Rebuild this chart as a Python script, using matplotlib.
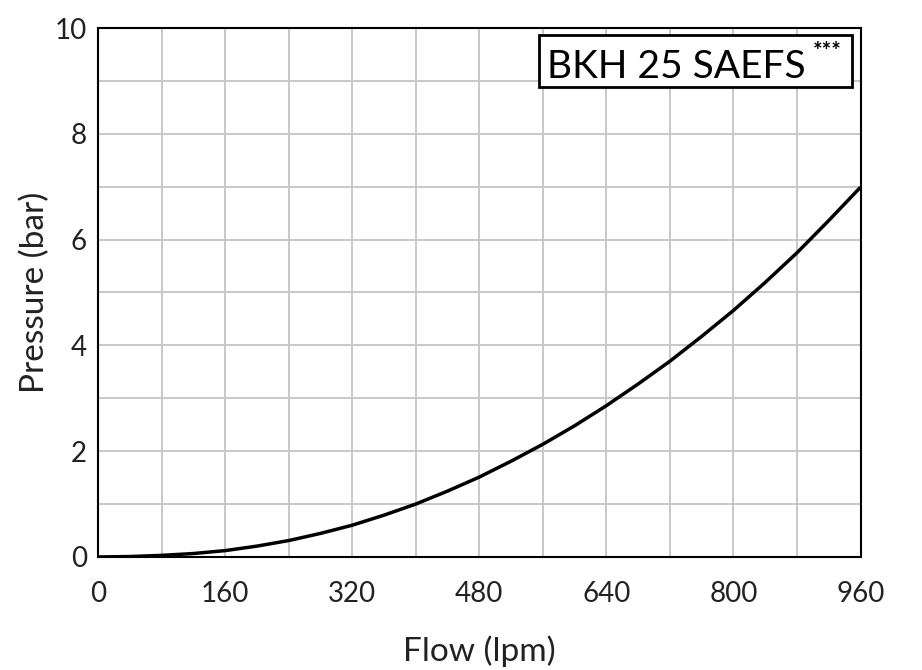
import matplotlib
matplotlib.use("Agg")
import matplotlib.pyplot as plt
from matplotlib.patches import Rectangle

flow = [0, 40, 80, 120, 160, 200, 240, 280, 320, 360, 400, 440, 480, 520, 560,
        600, 640, 680, 720, 760, 800, 840, 880, 920, 960]
pressure = [0.0, 0.008, 0.03, 0.065, 0.12, 0.205, 0.31, 0.445, 0.60, 0.79, 1.00, 1.245,
            1.51, 1.81, 2.13, 2.48, 2.86, 3.27, 3.70, 4.17, 4.66, 5.19, 5.75, 6.36, 6.99]
xticks = [0, 160, 320, 480, 640, 800, 960]
yticks = [0, 2, 4, 6, 8, 10]
title = "BKH 25 SAEFS"

plt.rcParams['font.family'] = ['Lato', 'DejaVu Sans']

fig = plt.figure(figsize=(9.22, 6.7), dpi=100)
ax = fig.add_axes([0.1063, 0.1687, 0.9333 - 0.1063, 0.9582 - 0.1687])

ax.set_xlim(0, 960)
ax.set_ylim(0, 10)
ax.set_xticks(range(0, 961, 80))
ax.set_yticks(range(0, 11, 1))
ax.set_xticklabels([str(v) if v in xticks else "" for v in range(0, 961, 80)])
ax.set_yticklabels([str(v) if v in yticks else "" for v in range(0, 11, 1)])
ax.grid(True, color="#c8c8c8", linewidth=1.4)
ax.set_axisbelow(True)
ax.tick_params(axis='both', length=0, labelsize=20, colors="#222222")
ax.tick_params(axis='x', pad=17)
ax.tick_params(axis='y', pad=8)
for s in ax.spines.values():
    s.set_linewidth(1.5)
    s.set_color("black")

ax.plot(flow, pressure, color="black", linewidth=2.5, solid_capstyle="butt", zorder=3)

ax.set_xlabel("Flow (lpm)", fontsize=24, labelpad=21, color="#222222")
ax.set_ylabel("Pressure (bar)", fontsize=24, labelpad=3, color="#222222")

ax.add_patch(Rectangle((0.578, 0.888), 0.989 - 0.578, 0.987 - 0.888, transform=ax.transAxes,
                       facecolor="white", edgecolor="black", linewidth=2.0, zorder=5))
ax.text(0.589, 0.906, title, transform=ax.transAxes, fontsize=28, ha="left", va="baseline",
        color="black", zorder=6)
ax.text(0.938, 0.955, "***", transform=ax.transAxes, fontsize=16, ha="left", va="center",
        color="black", zorder=6, fontweight="bold")

fig.savefig("out.png", dpi=100, facecolor="white")
